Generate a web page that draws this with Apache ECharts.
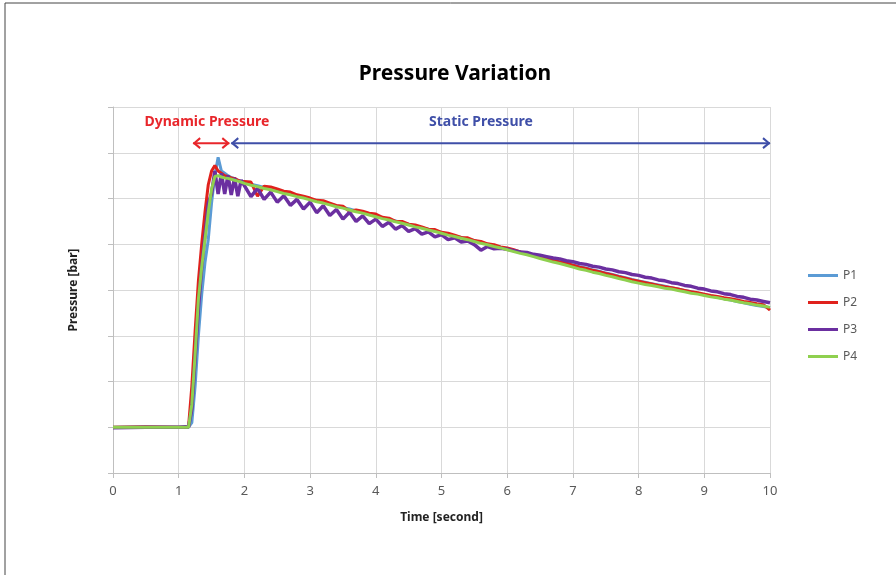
<!DOCTYPE html>
<html>
<head>
<meta charset="utf-8">
<script src="https://cdn.jsdelivr.net/npm/echarts@6/dist/echarts.min.js"></script>
<style>
  html, body { margin: 0; padding: 0; background: #fff; }
  #main { width: 896px; height: 575px; }
</style>
</head>
<body>
<div id="main"></div>
<script>
// time axis [second]
var times = [0, 0.5, 1, 1.1, 1.15, 1.2, 1.25, 1.3, 1.35, 1.4, 1.45, 1.5, 1.55, 1.6, 1.65, 1.7, 1.75, 1.8, 1.85, 1.9, 1.95,
    2.0, 2.1, 2.2, 2.3, 2.4, 2.5, 2.6, 2.7, 2.8, 2.9,
    3.0, 3.1, 3.2, 3.3, 3.4, 3.5, 3.6, 3.7, 3.8, 3.9,
    4.0, 4.1, 4.2, 4.3, 4.4, 4.5, 4.6, 4.7, 4.8, 4.9,
    5.0, 5.1, 5.2, 5.3, 5.4, 5.5, 5.6, 5.7, 5.8, 5.9,
    6.0, 6.1, 6.2, 6.3, 6.4, 6.5, 6.6, 6.7, 6.8, 6.9,
    7.0, 7.1, 7.2, 7.3, 7.4, 7.5, 7.6, 7.7, 7.8, 7.9,
    8.0, 8.1, 8.2, 8.3, 8.4, 8.5, 8.6, 8.7, 8.8, 8.9,
    9.0, 9.1, 9.2, 9.3, 9.4, 9.5, 9.6, 9.7, 9.8, 9.9,
    10.0];

// pressure readings (no scale on the y axis in the original)
var p1 = [1.0, 1.0, 1.0, 1.0, 1.0, 1.1, 1.9, 3.0, 3.9, 4.6, 5.1, 5.9, 6.5, 6.9, 6.6, 6.55, 6.5, 6.46, 6.43, 6.4, 6.38,
    6.35, 6.31, 6.28, 6.24, 6.21, 6.17, 6.13, 6.10, 6.06, 6.03,
    5.99, 5.95, 5.91, 5.88, 5.84, 5.80, 5.77, 5.73, 5.69, 5.66,
    5.62, 5.58, 5.54, 5.51, 5.47, 5.44, 5.40, 5.36, 5.33, 5.29,
    5.26, 5.22, 5.18, 5.15, 5.11, 5.08, 5.04, 5.00, 4.97, 4.93,
    4.90, 4.86, 4.83, 4.79, 4.76, 4.72, 4.69, 4.65, 4.62, 4.58,
    4.55, 4.51, 4.48, 4.44, 4.41, 4.37, 4.34, 4.30, 4.27, 4.23,
    4.20, 4.17, 4.14, 4.11, 4.08, 4.05, 4.02, 3.99, 3.96, 3.93,
    3.90, 3.87, 3.84, 3.81, 3.78, 3.75, 3.72, 3.69, 3.66, 3.64,
    3.61];

var p2 = [1.0, 1.01, 1.0, 1.0, 1.02, 1.9, 3.1, 4.2, 5.0, 5.7, 6.3, 6.6, 6.72, 6.6, 6.55, 6.5, 6.48, 6.45, 6.44, 6.4, 6.37,
    6.37, 6.36, 6.05, 6.27, 6.25, 6.21, 6.16, 6.14, 6.08, 6.05,
    6.01, 5.96, 5.95, 5.90, 5.85, 5.83, 5.72, 5.75, 5.72, 5.68,
    5.66, 5.59, 5.57, 5.50, 5.50, 5.44, 5.42, 5.38, 5.33, 5.32,
    5.26, 5.24, 5.20, 5.15, 5.14, 5.08, 5.06, 5.01, 4.99, 4.94,
    4.92, 4.88, 4.83, 4.81, 4.76, 4.73, 4.68, 4.66, 4.61, 4.59,
    4.54, 4.50, 4.47, 4.43, 4.40, 4.36, 4.33, 4.29, 4.26, 4.22,
    4.19, 4.16, 4.13, 4.10, 4.07, 4.05, 4.02, 3.99, 3.96, 3.94,
    3.91, 3.88, 3.86, 3.83, 3.81, 3.78, 3.75, 3.73, 3.70, 3.68,
    3.56];

var p3 = [0.99, 1.0, 1.0, 1.01, 1.0, 1.4, 2.5, 3.6, 4.5, 5.2, 5.9, 6.1, 6.6, 6.1, 6.55, 6.1, 6.5, 6.08, 6.45, 6.05, 6.4,
    6.28, 6.04, 6.22, 5.98, 6.14, 5.92, 6.06, 5.85, 5.98, 5.77,
    5.92, 5.69, 5.84, 5.63, 5.76, 5.55, 5.70, 5.50, 5.62, 5.45,
    5.55, 5.39, 5.48, 5.33, 5.41, 5.28, 5.34, 5.22, 5.27, 5.16,
    5.21, 5.10, 5.14, 5.05, 5.07, 4.99, 4.87, 4.95, 4.90, 4.91,
    4.89, 4.86, 4.83, 4.82, 4.78, 4.76, 4.73, 4.70, 4.68, 4.64,
    4.62, 4.58, 4.56, 4.52, 4.50, 4.46, 4.44, 4.40, 4.38, 4.34,
    4.32, 4.28, 4.26, 4.22, 4.20, 4.16, 4.14, 4.10, 4.08, 4.04,
    4.02, 3.98, 3.96, 3.92, 3.90, 3.86, 3.84, 3.80, 3.78, 3.75,
    3.72];

var p4 = [1.0, 1.0, 1.0, 1.0, 1.0, 1.5, 2.6, 3.8, 4.5, 5.1, 5.7, 6.2, 6.48, 6.5, 6.47, 6.45, 6.44, 6.42, 6.4, 6.38, 6.36,
    6.33, 6.29, 6.26, 6.22, 6.19, 6.15, 6.11, 6.08, 6.04, 6.01,
    5.97, 5.93, 5.90, 5.86, 5.82, 5.79, 5.75, 5.71, 5.68, 5.64,
    5.60, 5.56, 5.53, 5.49, 5.46, 5.42, 5.38, 5.35, 5.31, 5.28,
    5.24, 5.20, 5.17, 5.13, 5.10, 5.06, 5.02, 4.99, 4.95, 4.92,
    4.88, 4.84, 4.80, 4.77, 4.73, 4.69, 4.65, 4.61, 4.58, 4.54,
    4.50, 4.46, 4.43, 4.39, 4.36, 4.32, 4.29, 4.25, 4.22, 4.18,
    4.15, 4.12, 4.10, 4.07, 4.04, 4.02, 3.99, 3.96, 3.93, 3.91,
    3.88, 3.85, 3.83, 3.80, 3.78, 3.75, 3.72, 3.70, 3.67, 3.65,
    3.62];

var seriesNames = ['P1', 'P2', 'P3', 'P4'];
var seriesColors = ['#5b9bd5', '#e0211c', '#6b2fa0', '#8fd04f'];
var seriesValues = [p1, p2, p3, p4];

var chart = echarts.init(document.getElementById('main'));

var series = [];
for (var s = 0; s < seriesNames.length; s++) {
    var pts = [];
    for (var i = 0; i < times.length; i++) {
        pts.push([times[i], seriesValues[s][i]]);
    }
    series.push({
        name: seriesNames[s],
        type: 'line',
        symbol: 'none',
        data: pts,
        lineStyle: { color: seriesColors[s], width: s == 2 ? 3.5 : 3 },
        itemStyle: { color: seriesColors[s] },
        animation: false
    });
}

var option = {
    backgroundColor: '#fff',
    textStyle: { fontFamily: 'Noto Sans' },
    title: {
        text: 'Pressure Variation',
        left: 450,
        top: 59,
        textAlign: 'center',
        textStyle: { fontSize: 21, fontWeight: 'bold', color: '#000', fontFamily: 'Noto Sans' }
    },
    legend: {
        orient: 'vertical',
        left: 803,
        top: 262,
        icon: 'rect',
        itemWidth: 30,
        itemHeight: 3,
        itemGap: 10,
        textStyle: { color: '#595959', fontSize: 12, lineHeight: 17 },
        data: seriesNames
    },
    grid: { left: 113, right: 126, top: 107, bottom: 102 },
    xAxis: {
        type: 'value',
        min: 0,
        max: 10,
        interval: 1,
        name: 'Time [second]',
        nameLocation: 'middle',
        nameGap: 39,
        nameTextStyle: { fontWeight: 'bold', fontSize: 12, color: '#222' },
        axisLine: { lineStyle: { color: '#bfbfbf' } },
        axisTick: { show: true, length: 5, lineStyle: { color: '#bfbfbf' } },
        axisLabel: { color: '#595959', fontSize: 13, margin: 12 },
        splitLine: { show: true, lineStyle: { color: '#d9d9d9' } }
    },
    yAxis: {
        type: 'value',
        min: 0,
        max: 8,
        interval: 1,
        name: 'Pressure [bar]',
        nameLocation: 'middle',
        nameGap: 33,
        nameTextStyle: { fontWeight: 'bold', fontSize: 12, color: '#222' },
        axisLine: { show: true, lineStyle: { color: '#bfbfbf' } },
        axisTick: { show: true, length: 5, lineStyle: { color: '#bfbfbf' } },
        axisLabel: { show: false },
        splitLine: { show: true, lineStyle: { color: '#d9d9d9' } }
    },
    series: series
};

chart.setOption(option);

// annotations: dynamic / static pressure arrows, placed in data space
function px(t, v) { return chart.convertToPixel({ gridIndex: 0 }, [t, v]); }

function arrowGraphic(t0, t1, v, color) {
    var a = px(t0, v), b = px(t1, v);
    var st = { stroke: color, lineWidth: 2 };
    return [
        { type: 'line', shape: { x1: a[0], y1: a[1], x2: b[0], y2: b[1] }, style: st },
        { type: 'polyline', shape: { points: [[a[0] + 7, a[1] - 5], [a[0] + 1, a[1]], [a[0] + 7, a[1] + 5]] }, style: st },
        { type: 'polyline', shape: { points: [[b[0] - 7, b[1] - 5], [b[0] - 1, b[1]], [b[0] - 7, b[1] + 5]] }, style: st }
    ];
}

var dynLabel = px(1.43, 7.67);
var staLabel = px(5.6, 7.67);
var graphics = []
    .concat(arrowGraphic(1.22, 1.77, 7.21, '#e8262b'))
    .concat(arrowGraphic(1.8, 10, 7.21, '#3f4fa8'))
    .concat([
        { type: 'text', x: dynLabel[0], y: dynLabel[1],
          style: { text: 'Dynamic Pressure', fill: '#e8262b', font: 'bold 14px "Noto Sans"', align: 'center', verticalAlign: 'middle' } },
        { type: 'text', x: staLabel[0], y: staLabel[1],
          style: { text: 'Static Pressure', fill: '#3f4fa8', font: 'bold 14px "Noto Sans"', align: 'center', verticalAlign: 'middle' } },
        // page frame (top and left edges)
        { type: 'line', shape: { x1: 5, y1: 3, x2: 896, y2: 3 }, style: { stroke: '#444', lineWidth: 1 } },
        { type: 'line', shape: { x1: 5, y1: 3, x2: 5, y2: 575 }, style: { stroke: '#444', lineWidth: 1 } }
    ]);

chart.setOption({ graphic: graphics });
</script>
</body>
</html>
